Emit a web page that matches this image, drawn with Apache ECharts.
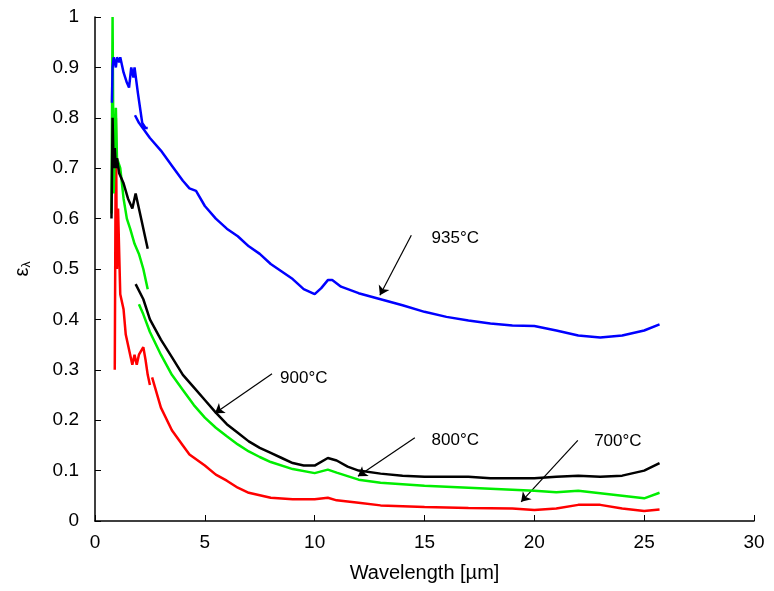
<!DOCTYPE html>
<html><head><meta charset="utf-8">
<script src="https://cdn.jsdelivr.net/npm/echarts@6/dist/echarts.min.js"></script>
<style>html,body{margin:0;background:#fff}#c{width:774px;height:591px}</style>
</head><body><div id="c"></div>
<script>
// wavelength [µm], emissivity; null splits the spectrometer ranges
const blue935 = [[0.77,0.83],[0.8,0.9],[0.85,0.92],[0.95,0.9],[1.0,0.92],[1.1,0.91],[1.15,0.92],[1.3,0.89],[1.45,0.87],[1.55,0.86],[1.65,0.9],[1.75,0.88],[1.8,0.9],[1.95,0.85],[2.05,0.82],[2.15,0.79],[2.3,0.78],[2.4,0.78],null,
  [1.82,0.805],[2.0,0.79],[2.5,0.76],[3,0.735],[3.5,0.705],[4,0.675],[4.3,0.66],[4.6,0.655],[5,0.625],[5.5,0.6],[6,0.58],[6.5,0.565],[7,0.545],[7.5,0.53],[8,0.51],[8.5,0.495],[9,0.48],[9.5,0.46],[10,0.45],[10.3,0.462],[10.6,0.478],[10.8,0.478],[11.2,0.465],[12,0.452],[13,0.44],[14,0.428],[15,0.415],[16,0.405],[17,0.398],[18,0.392],[19,0.388],[20,0.387],[21,0.378],[22,0.368],[23,0.364],[24,0.368],[25,0.378],[25.7,0.39]];
const black900 = [[0.75,0.6],[0.8,0.8],[0.85,0.7],[0.9,0.74],[0.95,0.7],[1.0,0.72],[1.1,0.69],[1.3,0.67],[1.5,0.64],[1.6,0.63],[1.7,0.62],[1.85,0.65],[2.0,0.62],[2.1,0.6],[2.25,0.57],[2.4,0.54],null,
  [1.85,0.47],[2.2,0.44],[2.5,0.4],[3,0.36],[3.5,0.325],[4,0.29],[4.5,0.265],[5,0.24],[5.5,0.215],[6,0.192],[6.5,0.175],[7,0.158],[7.5,0.145],[8,0.135],[8.5,0.125],[9,0.115],[9.5,0.11],[10,0.11],[10.6,0.125],[11,0.12],[11.5,0.108],[12,0.1],[13,0.094],[14,0.09],[15,0.088],[17,0.088],[18,0.085],[20,0.085],[21,0.088],[22,0.09],[23,0.088],[24,0.09],[25,0.1],[25.7,0.115]];
const green800 = [[0.75,0.61],[0.8,1.0],[0.85,0.65],[0.95,0.82],[1.0,0.72],[1.15,0.7],[1.3,0.64],[1.45,0.6],[1.6,0.58],[1.8,0.55],[2.0,0.53],[2.2,0.5],[2.4,0.46],null,
  [2.0,0.43],[2.2,0.41],[2.5,0.375],[3,0.33],[3.5,0.29],[4,0.26],[4.5,0.23],[5,0.205],[5.5,0.185],[6,0.168],[6.5,0.152],[7,0.138],[7.5,0.127],[8,0.117],[9,0.103],[10,0.095],[10.6,0.102],[11,0.096],[12,0.082],[13,0.076],[15,0.07],[17,0.066],[19,0.062],[20,0.06],[21,0.057],[22,0.06],[23,0.055],[24,0.05],[25,0.045],[25.7,0.056]];
const red700 = [[0.9,0.3],[0.95,0.8],[1.0,0.5],[1.05,0.62],[1.15,0.45],[1.3,0.42],[1.4,0.37],[1.6,0.33],[1.7,0.31],[1.8,0.33],[1.9,0.31],[2.0,0.33],[2.2,0.345],[2.3,0.32],[2.4,0.29],[2.5,0.27],null,
  [2.6,0.285],[3,0.225],[3.5,0.18],[4,0.15],[4.3,0.132],[5,0.11],[5.5,0.092],[6,0.08],[6.5,0.066],[7,0.056],[8,0.046],[9,0.043],[10,0.043],[10.6,0.046],[11,0.041],[12,0.036],[13,0.031],[15,0.028],[17,0.026],[19,0.025],[20,0.022],[21,0.025],[22,0.032],[23,0.032],[24,0.025],[25,0.02],[25.7,0.023]];
const seriesNames = ['935°C','900°C','800°C','700°C'];
const seriesColors = ['#0000ff','#000000','#00ee00','#ff0000'];
// annotation: label anchor [x,y] -> arrow tip [x,y]
const arrowFrom = [[14.4,0.567],[8.06,0.292],[14.56,0.165],[21.98,0.16]];
const arrowTo = [[12.97,0.448],[5.46,0.214],[11.97,0.089],[19.4,0.038]];
const labelAt = [[15.3,0.56],[8.4,0.283],[15.3,0.16],[22.7,0.158]];

const chart = echarts.init(document.getElementById('c'));
const font = 'Liberation Sans, Arial, sans-serif';
const allData = [blue935, black900, green800, red700];
chart.setOption({
  animation: false,
  grid: { left: 95, right: 20, top: 17, bottom: 70 },
  xAxis: {
    type: 'value', min: 0, max: 30, interval: 5,
    name: 'Wavelength [µm]', nameLocation: 'middle', nameGap: 42,
    nameTextStyle: { fontSize: 20, color: '#000', fontFamily: font },
    axisLine: { lineStyle: { color: '#000', width: 1.5 } },
    axisTick: { inside: true, length: 6, lineStyle: { color: '#000' } },
    axisLabel: { fontSize: 19, color: '#000', fontFamily: font, margin: 12 },
    splitLine: { show: false }
  },
  yAxis: {
    type: 'value', min: 0, max: 1, interval: 0.1,
    name: '{a|ε}{b|λ}', nameLocation: 'middle', nameGap: 62, nameRotate: 90,
    nameTextStyle: { rich: { a: { fontSize: 20, color: '#000', fontFamily: font }, b: { fontSize: 12, color: '#000', fontFamily: font, padding: [10, 0, 0, 0] } } },
    axisLine: { show: true, lineStyle: { color: '#000', width: 1.5 } },
    axisTick: { show: true, inside: true, length: 6, lineStyle: { color: '#000' } },
    axisLabel: { fontSize: 19, color: '#000', fontFamily: font, margin: 16, formatter: v => String(+v.toFixed(1)) },
    splitLine: { show: false }
  },
  series: allData.map((d, i) => ({
    name: seriesNames[i],
    type: 'line', data: d.map(p => p === null ? [null, null] : p),
    showSymbol: false, connectNulls: false,
    lineStyle: { color: seriesColors[i], width: 2.5 },
    z: 10 - i,
    markLine: {
      silent: true, symbol: ['none', 'arrow'], symbolSize: 9,
      lineStyle: { color: '#000', width: 1.2, type: 'solid' },
      label: { show: false },
      data: [[{ coord: arrowFrom[i] }, { coord: arrowTo[i] }]]
    },
    markPoint: {
      silent: true, symbol: 'circle', symbolSize: 1,
      itemStyle: { color: 'rgba(0,0,0,0)' },
      label: { show: true, position: 'right', distance: 0, formatter: seriesNames[i], color: '#000', fontSize: 17, fontFamily: font },
      data: [{ coord: labelAt[i] }]
    }
  }))
});
</script></body></html>
